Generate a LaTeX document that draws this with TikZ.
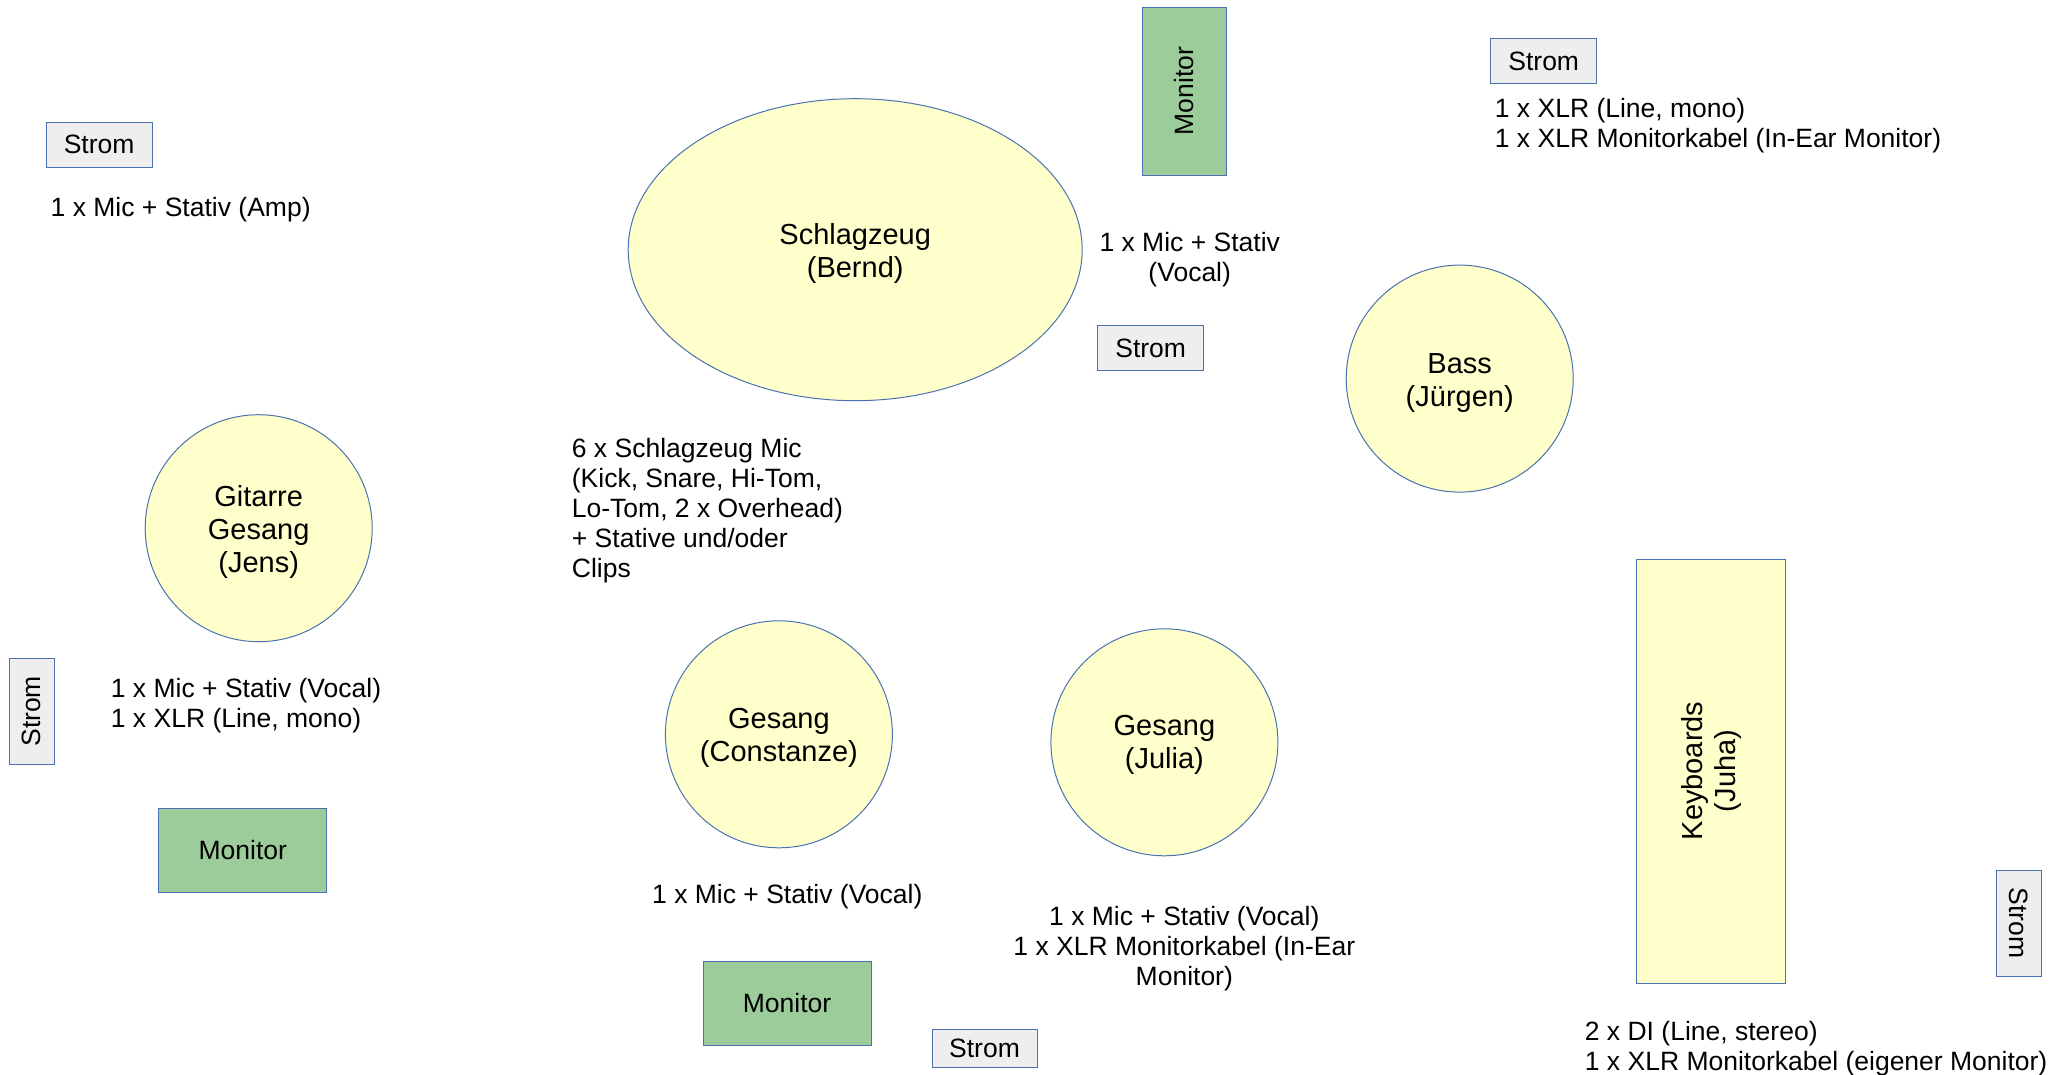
\documentclass[tikz,border=0pt]{standalone}
\usepackage{fontspec}
\setmainfont{Liberation Sans}
\usetikzlibrary{shapes.geometric}
\definecolor{yel}{HTML}{FFFFCC}
\definecolor{bord}{HTML}{4A72B0}
\definecolor{sgray}{HTML}{EEEEEE}
\definecolor{mgreen}{HTML}{9BCC99}
\begin{document}
\begin{tikzpicture}[x=1pt,y=-1pt,
  every node/.style={font=\fontsize{26.5}{30}\selectfont, inner sep=0pt},
  bigtext/.style={font=\fontsize{29}{33}\selectfont, align=center},
  person/.style={circle, draw=bord, fill=yel, line width=1pt, minimum size=227pt},
  strombox/.style={draw=bord, fill=sgray, line width=1pt, minimum width=106pt, minimum height=45pt},
  monbox/.style={draw=bord, fill=mgreen, line width=1pt, minimum width=168pt, minimum height=84pt},
  info/.style={align=left, anchor=west},
  infoc/.style={align=center}]
\useasboundingbox (0,0) rectangle (2071,1074);
% persons
\node[ellipse, draw=bord, fill=yel, line width=1pt, minimum width=454pt, minimum height=302pt] (drums) at (855.2,249.7) {};
\node[bigtext] (drumst) at ([yshift=-4pt]drums.center) {Schlagzeug\\(Bernd)};
\node[person] (bass) at (1459.7,378.6) {};
\node[bigtext] (basst) at ([yshift=-4pt]bass.center) {Bass\\(Jürgen)};
\node[person] (guitar) at (258.7,528.2) {};
\node[bigtext] (guitart) at ([yshift=-4pt]guitar.center) {Gitarre\\Gesang\\(Jens)};
\node[person] (constanze) at (778.9,734.3) {};
\node[bigtext] (constanzet) at ([yshift=-4pt]constanze.center) {Gesang\\(Constanze)};
\node[person] (julia) at (1164.4,742.3) {};
\node[bigtext] (juliat) at ([yshift=-3pt]julia.center) {Gesang\\(Julia)};
\node[draw=bord, fill=yel, line width=1pt, rotate=90, minimum width=424pt, minimum height=149pt, bigtext] (keys) at (1711,771) {Keyboards\\(Juha)};
% monitors
\node[monbox, rotate=90] (mon1) at (1184,91) {Monitor};
\node[monbox] (mon2) at (242.8,850.3) {Monitor};
\node[monbox] (mon3) at (787,1003) {Monitor};
% power
\node[strombox] (s1) at (99.1,144.5) {Strom};
\node[strombox] (s2) at (1150.7,348.3) {Strom};
\node[strombox] (s3) at (1543.7,61.4) {Strom};
\node[strombox, rotate=90] (s4) at (31.7,711.3) {Strom};
\node[strombox, minimum width=105pt, minimum height=38pt] (s5) at (984.5,1048) {Strom};
\node[strombox, rotate=-90] (s6) at (2019,923) {Strom};
% info texts
\node[info] (t1) at (50.5,209.7) {1 x Mic + Stativ (Amp)};
\node[info] (t2) at (571.7,511) {6 x Schlagzeug Mic\\(Kick, Snare, Hi-Tom,\\Lo-Tom, 2 x Overhead)\\+ Stative und/oder\\Clips};
\node[infoc] (t3) at (1189.7,260) {1 x Mic + Stativ\\(Vocal)};
\node[info] (t4) at (1494.7,125.8) {1 x XLR (Line, mono)\\1 x XLR Monitorkabel (In-Ear Monitor)};
\node[info] (t5) at (110.7,705.5) {1 x Mic + Stativ (Vocal)\\1 x XLR (Line, mono)};
\node[infoc] (t6) at (787.3,896.7) {1 x Mic + Stativ (Vocal)};
\node[infoc] (t7) at (1184.3,948.2) {1 x Mic + Stativ (Vocal)\\1 x XLR Monitorkabel (In-Ear\\Monitor)};
\node[info] (t8) at (1584.7,1048.2) {2 x DI (Line, stereo)\\1 x XLR Monitorkabel (eigener Monitor)};
\end{tikzpicture}
\end{document}
